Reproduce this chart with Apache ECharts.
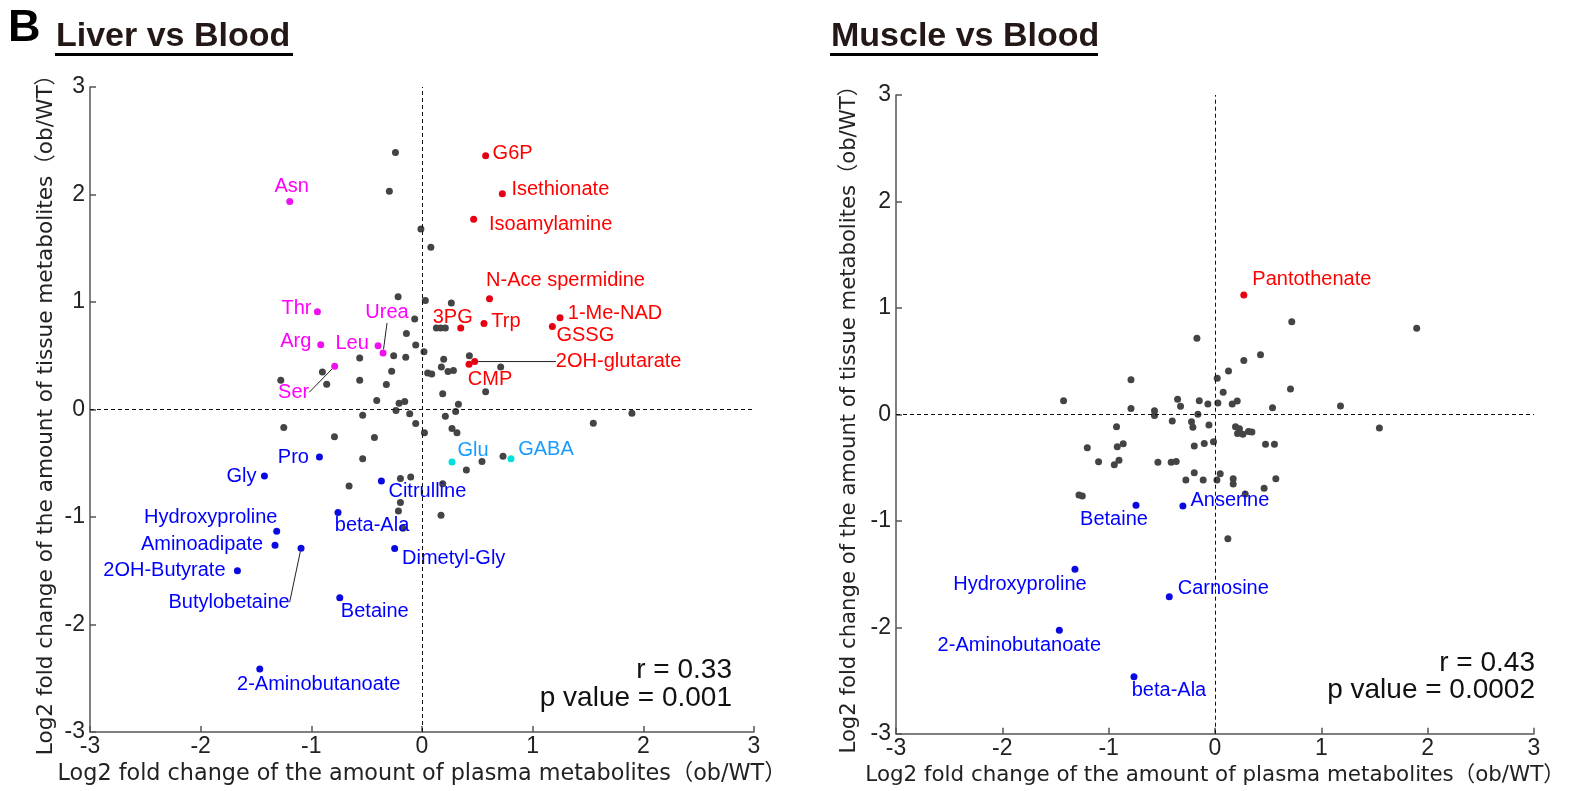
<!DOCTYPE html>
<html>
<head>
<meta charset="utf-8">
<script src="https://cdn.jsdelivr.net/npm/echarts@6/dist/echarts.min.js"></script>
<style>
html, body { margin: 0; padding: 0; background: #fff; }
#main { width: 1588px; height: 791px; }
</style>
</head>
<body>
<div id="main"></div>
<script>
// Liver vs Blood  [x = plasma log2FC, y = tissue log2FC]
var liverGray = [
    [-0.24, 2.39], [-0.295, 2.03], [-0.01, 1.68], [0.08, 1.51],
    [-0.216, 1.05], [0.03, 1.015], [0.265, 0.99],
    [-0.066, 0.842], [0.13, 0.758], [0.169, 0.758], [0.211, 0.758],
    [-0.141, 0.706], [-0.057, 0.60], [0.018, 0.538],
    [-0.9, 0.35], [-0.861, 0.235], [-1.276, 0.272],
    [-0.563, 0.48], [-0.563, 0.272], [-0.256, 0.501], [-0.147, 0.486], [-0.274, 0.356],
    [-0.322, 0.232], [-0.409, 0.084], [-0.207, 0.059], [-0.156, 0.074], [-0.235, -0.009],
    [-0.111, -0.04], [-0.536, -0.053],
    [0.196, 0.467], [0.428, 0.501], [0.175, 0.396], [0.235, 0.353], [0.284, 0.362],
    [0.051, 0.34], [0.088, 0.331], [0.187, 0.146], [0.575, 0.164], [0.329, 0.049],
    [0.304, -0.019], [0.211, -0.062], [0.711, 0.396], [1.897, -0.034],
    [-1.249, -0.167], [-0.791, -0.254], [-0.43, -0.26], [-0.536, -0.458], [-0.659, -0.712],
    [-0.195, -0.643], [-0.102, -0.628], [-0.195, -0.864], [-0.213, -0.944], [-0.172, -1.105],
    [-0.057, -0.13], [0.022, -0.217], [0.271, -0.176], [0.316, -0.217], [0.401, -0.563],
    [0.542, -0.483], [0.187, -0.69], [0.172, -0.984], [0.732, -0.436], [1.548, -0.127]
];
var liverUp = [
    ['G6P', 0.575, 2.36], ['Isethionate', 0.726, 2.008], ['Isoamylamine', 0.467, 1.77],
    ['N-Ace spermidine', 0.61, 1.03], ['3PG', 0.35, 0.758], ['Trp', 0.56, 0.80],
    ['1-Me-NAD', 1.247, 0.854], ['GSSG', 1.178, 0.771], ['2OH-glutarate', 0.476, 0.446],
    ['CMP', 0.425, 0.42]
];
var liverAmino = [
    ['Asn', -1.195, 1.934], ['Thr', -0.945, 0.91], ['Arg', -0.915, 0.603],
    ['Leu', -0.397, 0.594], ['Urea', -0.352, 0.526], ['Ser', -0.789, 0.402]
];
var liverGluGaba = [
    ['Glu', 0.271, -0.489], ['GABA', 0.804, -0.458]
];
var liverDown = [
    ['Pro', -0.927, -0.443], ['Gly', -1.424, -0.619], ['Citrulline', -0.367, -0.666],
    ['beta-Ala', -0.759, -0.959], ['Hydroxyproline', -1.313, -1.133], ['Aminoadipate', -1.328, -1.263],
    ['Butylobetaine', -1.093, -1.29], ['Dimetyl-Gly', -0.247, -1.294], ['2OH-Butyrate', -1.668, -1.501],
    ['Betaine', -0.743, -1.752], ['2-Aminobutanoate', -1.466, -2.414]
];

// Muscle vs Blood
var muscleGray = [
    [-1.424, 0.128], [-0.79, 0.325], [-0.79, 0.056], [-0.569, 0.034], [-0.569, -0.01],
    [-0.352, 0.141], [-0.324, 0.075], [-0.17, 0.714], [-0.148, 0.128], [-0.067, 0.097],
    [-0.161, 0.0], [0.021, 0.338], [0.027, 0.106], [0.077, 0.207], [0.127, 0.407],
    [0.722, 0.87], [1.897, 0.808], [0.271, 0.507], [0.428, 0.56], [0.71, 0.238],
    [0.162, 0.097], [0.209, 0.125], [0.541, 0.062], [1.18, 0.078],
    [-0.402, -0.063], [-0.221, -0.069], [-0.208, -0.12], [-0.057, -0.1], [-0.926, -0.116],
    [-1.201, -0.314], [-0.919, -0.304], [-0.863, -0.276], [-0.195, -0.298], [-0.101, -0.273],
    [-0.014, -0.257], [-1.095, -0.445], [-0.947, -0.474], [-0.903, -0.432], [-0.537, -0.451],
    [-0.412, -0.451], [-0.365, -0.442], [-0.195, -0.549], [0.049, -0.558], [-0.274, -0.617],
    [-0.111, -0.617], [0.018, -0.617], [-1.279, -0.758], [-1.248, -0.768], [0.121, -1.169],
    [1.546, -0.129], [0.193, -0.116], [0.23, -0.135], [0.212, -0.179], [0.262, -0.188],
    [0.315, -0.16], [0.347, -0.166], [0.475, -0.282], [0.559, -0.282], [0.171, -0.605],
    [0.171, -0.655], [0.572, -0.605], [0.462, -0.693], [0.284, -0.749]
];
var muscleUp = [
    ['Pantothenate', 0.271, 1.121]
];
var muscleDown = [
    ['Betaine', -0.743, -0.855], ['Anserine', -0.302, -0.862], ['Hydroxyproline', -1.317, -1.454],
    ['Carnosine', -0.43, -1.714], ['2-Aminobutanoate', -1.464, -2.027], ['beta-Ala', -0.762, -2.466]
];

var axisTicks = [-3, -2, -1, 0, 1, 2, 3];
var stats = [['r = 0.33', 'p value = 0.001'], ['r = 0.43', 'p value = 0.0002']];

// where each label sits relative to its dot (px, label centre)
var liverLabelPos = {
    'G6P': [27, -2], 'Isethionate': [58, -4], 'Isoamylamine': [77, 5], 'N-Ace spermidine': [76, -18],
    '3PG': [-8, -11], 'Trp': [22, -2], '1-Me-NAD': [55, -4], 'GSSG': [33, 9],
    '2OH-glutarate': [144, 0], 'CMP': [21, 15],
    'Asn': [2, -15], 'Thr': [-21, -3], 'Arg': [-25, -3], 'Leu': [-26, -2], 'Urea': [4, -40], 'Ser': [-41, 26],
    'Glu': [21, -12], 'GABA': [35, -9],
    'Pro': [-26, 0], 'Gly': [-23, 0], 'Citrulline': [46, 10], 'beta-Ala': [34, 13],
    'Hydroxyproline': [-66, -14], 'Aminoadipate': [-73, -1], 'Butylobetaine': [-72, 54],
    'Dimetyl-Gly': [59, 10], '2OH-Butyrate': [-73, 0], 'Betaine': [35, 14], '2-Aminobutanoate': [59, 15]
};
var muscleLabelPos = {
    'Pantothenate': [68, -16], 'Betaine': [-22, 14], 'Anserine': [47, -6], 'Hydroxyproline': [-55, 15],
    'Carnosine': [54, -8], '2-Aminobutanoate': [-40, 15], 'beta-Ala': [35, 14]
};
var leaderNames = ['Urea', 'Ser', 'Butylobetaine', '2OH-glutarate'];

var labelFont = 'Liberation Sans, Arial, sans-serif';
var nameFont = 'DejaVu Sans, Noto Sans CJK JP, sans-serif';

function grayDots(idx, data) {
    return {
        type: 'scatter', xAxisIndex: idx, yAxisIndex: idx, symbolSize: 7,
        itemStyle: { color: '#444', opacity: 1 },
        data: data,
        markLine: {
            silent: true, symbol: 'none', animation: false,
            label: { show: false },
            lineStyle: { color: '#111', width: 1, type: [4, 3] },
            data: [{ xAxis: 0 }, { yAxis: 0 }]
        },
        z: 3
    };
}

function namedDots(idx, data, dotColor, textColor, posMap) {
    return {
        type: 'scatter', xAxisIndex: idx, yAxisIndex: idx, symbolSize: 7,
        itemStyle: { color: dotColor, opacity: 1 },
        data: data.map(function (d) {
            var item = { name: d[0], value: [d[1], d[2]] };
            if (idx === 0 && leaderNames.indexOf(d[0]) >= 0) {
                item.labelLine = { show: true, length2: 0, lineStyle: { color: '#222', width: 1 } };
            }
            return item;
        }),
        label: {
            show: true, position: 'inside', formatter: '{b}',
            color: textColor, fontSize: 20, fontFamily: labelFont
        },
        labelLayout: function (p) {
            var o = posMap[p.text] || [0, 0];
            return { dx: o[0], dy: o[1] };
        },
        labelLine: { show: false },
        z: 4
    };
}

function xAxisOf(idx, nameSize) {
    return {
        gridIndex: idx, type: 'value', min: -3, max: 3, interval: 1,
        splitLine: { show: false },
        axisLine: { show: true, onZero: false, lineStyle: { color: '#555', width: 1.5 } },
        axisTick: { show: true, inside: true, length: 6, lineStyle: { color: '#555', width: 1.5 } },
        axisLabel: {
            fontSize: 23, color: '#222', fontFamily: labelFont, margin: 3,
            showMinLabel: true, showMaxLabel: true,
            formatter: function (v) { return axisTicks.indexOf(v) >= 0 ? String(v) : ''; }
        },
        name: 'Log2 fold change of the amount of plasma metabolites（ob/WT）',
        nameLocation: 'middle', nameGap: 30,
        nameTextStyle: { fontSize: nameSize, color: '#222', fontFamily: nameFont }
    };
}

function yAxisOf(idx, gap, nameSize) {
    return {
        gridIndex: idx, type: 'value', min: -3, max: 3, interval: 1,
        splitLine: { show: false },
        axisLine: { show: true, onZero: false, lineStyle: { color: '#555', width: 1.5 } },
        axisTick: { show: true, inside: true, length: 6, lineStyle: { color: '#555', width: 1.5 } },
        axisLabel: {
            fontSize: 23, color: '#222', fontFamily: labelFont, margin: 5,
            showMinLabel: true, showMaxLabel: true
        },
        name: 'Log2 fold change of the amount of tissue metabolites（ob/WT）',
        nameLocation: 'middle', nameGap: gap,
        nameTextStyle: { fontSize: nameSize, color: '#222', fontFamily: nameFont }
    };
}

function titleText(x, text) {
    return {
        type: 'text', left: x, top: 20,
        style: { text: text, font: 'bold 34px Liberation Sans, Arial, sans-serif', fill: '#231815' }
    };
}

function statText(right, top, text) {
    return {
        type: 'text', right: right, top: top,
        style: { text: text, font: '28px Liberation Sans, Arial, sans-serif', fill: '#111', textAlign: 'right' }
    };
}

var chart = echarts.init(document.getElementById('main'));
chart.setOption({
    animation: false,
    backgroundColor: '#fff',
    grid: [
        { left: 90, top: 87, width: 664, height: 645 },
        { left: 896, top: 95, width: 638, height: 639 }
    ],
    xAxis: [xAxisOf(0, 22.3), xAxisOf(1, 21.4)],
    yAxis: [yAxisOf(0, 33, 21.6), yAxisOf(1, 36, 21.2)],
    series: [
        grayDots(0, liverGray),
        namedDots(0, liverUp, '#e60012', '#ff0000', liverLabelPos),
        namedDots(0, liverAmino, '#ee11ee', '#ff00ff', liverLabelPos),
        namedDots(0, liverGluGaba, '#00e0e0', '#1a9cff', liverLabelPos),
        namedDots(0, liverDown, '#0a0ae0', '#0000ff', liverLabelPos),
        grayDots(1, muscleGray),
        namedDots(1, muscleUp, '#e60012', '#ff0000', muscleLabelPos),
        namedDots(1, muscleDown, '#0a0ae0', '#0000ff', muscleLabelPos)
    ],
    graphic: [
        { type: 'text', left: 8, top: 6, style: { text: 'B', font: 'bold 45px Liberation Sans, Arial, sans-serif', fill: '#000' } },
        titleText(56, 'Liver vs Blood'),
        { type: 'rect', left: 55, top: 53, shape: { width: 238, height: 3 }, style: { fill: '#000' } },
        titleText(831, 'Muscle vs Blood'),
        { type: 'rect', left: 830, top: 53, shape: { width: 268, height: 3 }, style: { fill: '#000' } },
        statText(1588 - 732, 656, stats[0][0]),
        statText(1588 - 732, 684, stats[0][1]),
        statText(1588 - 1535, 649, stats[1][0]),
        statText(1588 - 1535, 676, stats[1][1])
    ]
});
</script>
</body>
</html>
